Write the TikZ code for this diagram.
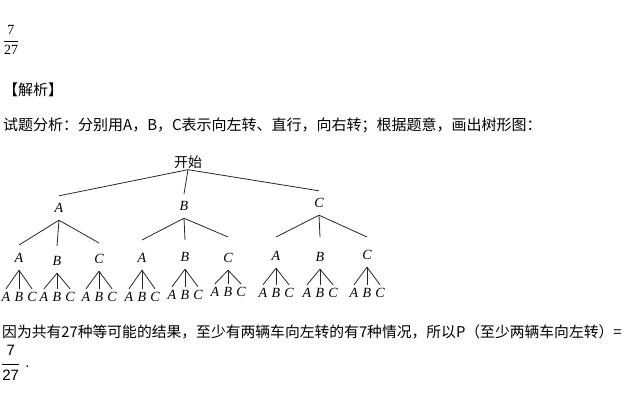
\documentclass[tikz,border=0pt]{standalone}
\usepackage{fontspec}
\usepackage{amsmath}
\setmainfont{Liberation Serif}
\newfontfamily\cjk{Noto Sans CJK SC}
\newfontfamily\arialfont{Liberation Sans}
\usetikzlibrary{positioning, calc}

\begin{document}
\begin{tikzpicture}[
  x=1pt, y=-1pt,
  txt/.style={anchor=west, inner sep=0pt, font=\cjk\fontsize{15}{18}\selectfont},
  lvl/.style={inner sep=0pt, minimum height=24pt, font=\itshape\fontsize{14}{16}\selectfont},
  leaf/.style={inner sep=0pt, minimum height=16pt, font=\itshape\fontsize{14}{16}\selectfont},
  branch/.style={line width=0.8pt, black!85},
]
  \useasboundingbox (0,0) rectangle (630,406);

  % Answer and explanation text
  \node[anchor=base, inner sep=0pt, font=\fontsize{14}{16}\selectfont] (ans) at (11,44.5) {$\dfrac{\text{7}}{\text{27}}$};
  \node[txt] (jiexi) at (3,90) {【解析】};
  \node[txt] (line1) at (3,125) {试题分析：分别用A，B，C表示向左转、直行，向右转；根据题意，画出树形图：};

  % Tree: root and first level
  \node[inner sep=1pt, font=\cjk\fontsize{14}{16}\selectfont] (start) at (188,162) {开始};
  \foreach \n/\x/\y in {A/59/208, B/184/206, C/319/203} {
    \node[lvl] (\n) at (\x,\y) {\n};
    \draw[branch] (start.south) -- (\n.north);
  }

  % Second level and leaves
  \foreach \p/\n/\x/\y/\t/\ly in {A/A/19/258/245/297, A/B/57/261/246/297, A/C/99/259/243/297,
      B/A/142/258/240/297, B/B/185/257/240/295, B/C/228/258/237/292,
      C/A/276/256/237/293, C/B/320/257/237/293, C/C/367/255/237/293} {
    \node[lvl] (\p\n) at (\x,\y) {\n};
    \coordinate (\p\n top) at (\x,\t);
    \draw[branch] (\p.south) -- (\p\n top);
    \foreach \m/\dx in {A/-13, B/0, C/13} {
      \node[leaf] (\p\n\m) at (\x+\dx,\ly) {\m};
      \draw[branch] (\p\n.south) -- (\p\n\m.north);
    }
  }

  % Conclusion
  \node[txt, font=\cjk\fontsize{14.8}{18}\selectfont] (line2) at (2,332) {因为共有27种等可能的结果，至少有两辆车向左转的有7种情况，所以P（至少两辆车向左转）=};
  \node[anchor=base west, inner sep=0pt, font=\arialfont\fontsize{15}{18}\selectfont] (ans2) at (1,368)
    {$\dfrac{\raisebox{3pt}{\text{7}}}{\raisebox{-3pt}{\text{27}}}$\hspace{5pt}.};
\end{tikzpicture}
\end{document}
